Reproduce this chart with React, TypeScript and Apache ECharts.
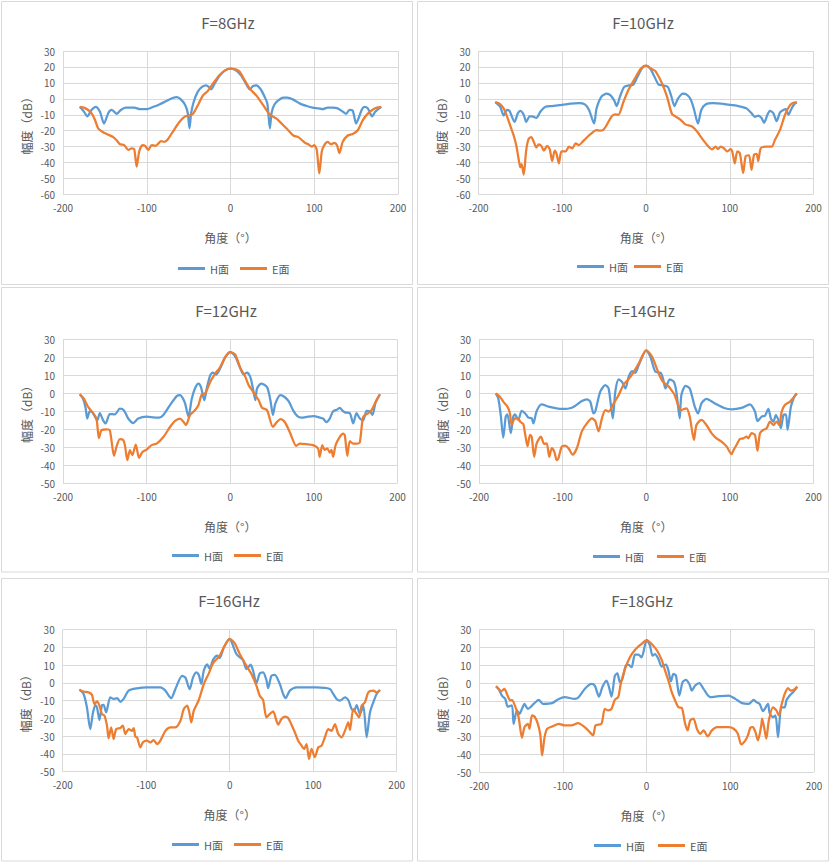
import React, { useEffect, useRef } from "react";
import * as echarts from "echarts";

type P = [number, number][];

const titles = ["F=8GHz", "F=10GHz", "F=12GHz", "F=14GHz", "F=16GHz", "F=18GHz"];
const seriesNames = ["H面", "E面"];
const xName = "角度（°）";
const yName = "幅度（dB）";
const xMin = -200;
const xMax = 200;
const xStep = 100;
const yMaxs = [30, 30, 30, 30, 30, 30];
const yMins = [-60, -60, -50, -50, -50, -50];
const yStep = 10;

const h8: P = [[-180,-5],[-175,-8],[-171,-11],[-166,-7],[-161,-5],[-156,-8],[-151,-15.5],[-146,-9],[-142,-7],[-139,-8],[-136,-9.5],[-131,-7],[-125,-5.5],[-115,-5.5],[-108,-6.5],[-100,-6.5],[-92,-5],[-85,-3.5],[-77,-1.5],[-69,0.5],[-64,1],[-59,-0.5],[-54,-4],[-51,-9],[-49,-18.5],[-47,-9],[-44,-2],[-39,4.5],[-34,7.5],[-29,8.5],[-26,7.5],[-23,6],[-19,9.5],[-13,14.5],[-6,18],[0,19],[6,18],[13,14.5],[19,9],[23,6],[27,8],[31,8.5],[36,6],[41,1],[44,-3],[47,-18.5],[49,-9],[52,-4],[57,-1],[63,0.8],[68,0.8],[75,-0.5],[83,-3],[91,-4.5],[98,-5.5],[105,-6],[110,-6.5],[116,-5.5],[122,-5.5],[128,-6],[134,-8],[138,-9.5],[142,-7],[146,-7.5],[150,-15.5],[153,-12],[157,-6.5],[160,-5],[164,-6],[169,-11],[173,-8],[180,-5]];
const e8: P = [[-180,-5],[-175,-5.5],[-170,-7],[-166,-9],[-162,-13],[-158,-18.5],[-152,-21],[-146,-22.5],[-140,-24],[-136,-26],[-132,-28.5],[-127,-29],[-122,-32],[-118,-31],[-115,-31.5],[-112,-42.5],[-109,-33],[-105,-29],[-102,-29.5],[-98,-32],[-94,-29],[-90,-29.5],[-86,-28],[-83,-26.5],[-79,-27],[-75,-25.5],[-69,-20.7],[-61,-14.5],[-55,-11.3],[-49,-10.3],[-45,-9.5],[-39,-4],[-33,2],[-27,5],[-21,9.5],[-13,15],[-6,18],[0,19],[6,18.5],[11,17],[17,11.6],[23,6.4],[31,2],[39,-4],[47,-10],[55,-12.4],[61,-15.5],[67,-18.6],[75,-23],[81,-24],[89,-27.6],[93,-28.5],[97,-30],[100,-29],[103,-32],[106,-46.8],[109,-33],[112,-29],[116,-27],[120,-28.5],[124,-27.6],[127,-29],[130,-34],[134,-27],[140,-23],[146,-22],[152,-19.7],[158,-13.4],[164,-9.3],[172,-6],[180,-5]];

const h10: P = [[-180,-2],[-174,-5],[-170,-10.5],[-166,-7],[-163,-7.5],[-157,-14.5],[-153,-9],[-150,-7.5],[-146,-10],[-143,-14.5],[-139,-11],[-136,-11],[-131,-12],[-126,-8],[-120,-5],[-112,-4.5],[-100,-3.8],[-90,-3],[-80,-2.7],[-73,-3.5],[-68,-7],[-62,-15.5],[-59,-6],[-53,1.5],[-47,3.2],[-42,2],[-38,-1],[-35,-4.5],[-31,1.5],[-26,7.5],[-20,8.5],[-15,9],[-10,14],[-5,19],[0,20.8],[5,19],[10,14],[15,9],[20,8.5],[26,7.5],[30,2],[34,-4.5],[38,0],[44,3.2],[49,2.5],[53,0],[57,-6],[62,-15.5],[66,-7],[71,-3.5],[80,-2.7],[90,-3],[100,-3.8],[108,-4.2],[114,-5],[120,-6],[126,-9],[130,-11.3],[134,-10.5],[138,-12],[141,-15],[145,-10],[148,-7.5],[152,-9],[156,-14],[160,-8.5],[164,-7],[167,-6.5],[170,-10],[173,-7],[176,-4],[180,-2]];
const e10: P = [[-180,-2],[-175,-3],[-170,-6],[-166,-11],[-162,-17],[-158,-23],[-155,-29],[-152,-38],[-150,-43],[-148.5,-41],[-146,-47.5],[-143,-32],[-140,-25],[-137,-24],[-134,-27],[-131,-30.5],[-128,-28.5],[-125,-29.5],[-122,-32.5],[-118,-29.5],[-115,-31.5],[-112,-39],[-109,-32.5],[-107,-34],[-104,-40.5],[-101,-33],[-96,-33],[-92,-30],[-88,-31],[-84,-28],[-80,-29],[-75,-26.5],[-67,-22.5],[-59,-19.7],[-55,-20],[-51,-19.5],[-47,-16.5],[-41,-11],[-37,-9.7],[-33,-10],[-27,-2],[-21,5.5],[-13,13],[-6,19],[0,20.8],[6,19],[11,17.5],[19,9.8],[25,1.5],[31,-9.5],[35,-11],[41,-13],[47,-16],[55,-17.4],[61,-20.5],[67,-25],[73,-29],[79,-31.7],[83,-30],[86,-31.5],[89,-30],[93,-31],[97,-33],[101,-31.5],[103,-33],[106,-40.5],[109,-33],[112,-34],[116,-46.5],[119,-36],[123,-35.5],[126,-44.5],[129,-35],[132,-34.5],[134,-39],[137,-31],[143,-30],[150,-30],[154,-25.7],[160,-19.5],[166,-10],[172,-4],[176,-2.5],[180,-2]];

const h12: P = [[-180,-0.5],[-176,-3],[-173,-8],[-171,-14],[-168,-10],[-165,-10.5],[-163,-12],[-159,-15],[-156,-11],[-152,-15],[-149,-16.7],[-144,-11.5],[-138,-11.7],[-132,-8.5],[-127,-9.5],[-122,-14],[-116,-16.5],[-110,-14],[-100,-13],[-90,-13.5],[-85,-13.5],[-80,-12],[-72,-6.5],[-64,-1.5],[-60,-1],[-57,-2.5],[-54,-5.6],[-50,-13],[-46,-3],[-42,3],[-38,5.5],[-35,3.5],[-31,-3.8],[-28,3],[-24,10],[-21,11.5],[-17,10.5],[-12,14],[-6,20],[0,23],[6,20.5],[12,14],[16,10.5],[20,11.5],[24,9],[27,3],[30,-3.8],[32,2.7],[37,5.5],[44,3.5],[48,-3.8],[51,-12],[54,-5.6],[60,-1],[65,-2],[70,-4.5],[75,-9.3],[80,-12.5],[85,-13.5],[93,-13],[100,-12.7],[107,-13.5],[111,-14],[115,-16],[119,-14],[123,-10],[128,-9],[131,-8],[134,-9.5],[137,-10.6],[143,-11],[147,-16.7],[151,-11],[155,-14],[159,-15],[163,-9.7],[167,-10],[170,-12],[174,-4.7],[179,-0.5]];
const e12: P = [[-180,-0.5],[-175,-2.9],[-170,-7.5],[-164,-11],[-160,-14],[-157,-25],[-154,-20.5],[-148,-20],[-144,-20.5],[-139,-34.8],[-136,-29.7],[-132,-25.5],[-128,-26],[-126,-28.8],[-123,-37.2],[-120,-31.6],[-117,-34.4],[-113,-28.5],[-109,-35.9],[-105,-32.6],[-100,-31.3],[-94,-28.8],[-88,-28],[-80,-24.3],[-72,-18.7],[-66,-15.3],[-60,-14],[-56,-15.8],[-53,-17.6],[-48,-12],[-42,-9.3],[-38,-6.5],[-34,-0.5],[-30,0],[-24,6.4],[-18,11],[-12,14.7],[-6,20.3],[0,23],[6,21.6],[12,14.2],[18,9.2],[22,4.6],[28,0.5],[34,-3.8],[38,-8],[44,-9.3],[51,-18.6],[56,-15.8],[60,-14.3],[65,-15.8],[71,-21.3],[79,-29.2],[83,-28],[91,-28.3],[99,-28.8],[105,-30.7],[107,-35.3],[110,-28.8],[113,-31.5],[116,-30.6],[119,-33],[121,-31.5],[123,-35.3],[126,-28.8],[131,-24.2],[135,-22.4],[137,-23.3],[140,-34.8],[143,-26.6],[147,-28],[152,-28],[155,-27],[159,-13.1],[165,-11],[169,-9.3],[173,-5.6],[179,-0.5]];

const h14: P = [[-180,0],[-177,-2.7],[-174,-12],[-171,-24.5],[-168,-12.8],[-166,-11.6],[-162,-22],[-159,-12.8],[-157,-11.6],[-153,-14.7],[-149,-9.7],[-145,-11],[-141,-13.4],[-137,-13.8],[-135,-16.6],[-131,-9.7],[-125,-6],[-117,-7.3],[-101,-8.6],[-89,-7.9],[-77,-4.2],[-71,-3.2],[-67,-4.5],[-63,-11],[-61,-10],[-55,1],[-49,4.6],[-45,2.8],[-40,-13.8],[-37,1],[-33,7.8],[-29,6.5],[-25,2.8],[-21,9.3],[-17,12.4],[-13,11.5],[-9,15.8],[0,24],[5,20.4],[11,12],[17,11.6],[20,8.4],[23,2.8],[28,7.8],[33,6.5],[36,1],[40,-13.8],[42,-0.9],[47,4.3],[52,2.8],[58,-7.3],[62,-11],[66,-5.5],[72,-3],[82,-5.5],[94,-8.2],[102,-8.8],[114,-8],[124,-6],[130,-10],[133,-15.3],[138,-12.8],[142,-12.3],[146,-8.6],[149,-13.8],[152,-15.6],[155,-12],[158,-14.7],[161,-19.3],[164,-12],[167,-11.6],[169,-20.2],[173,-7.3],[177,-1.8],[180,0]];
const e14: P = [[-180,0],[-175,-1.8],[-171,-4.5],[-166,-7.3],[-163,-11],[-161,-17.5],[-157,-13.8],[-153,-14.3],[-150,-16],[-147,-17],[-145,-22],[-142,-29.4],[-139,-23],[-137,-24],[-134,-35.2],[-131,-27.7],[-126,-24],[-122,-28],[-119,-27.7],[-116,-35.2],[-113,-30.4],[-110,-32.3],[-107,-37],[-105,-36],[-101,-29.4],[-97,-28.9],[-93,-30.4],[-88,-34],[-83,-30.4],[-77,-21],[-71,-16.6],[-65,-13.8],[-61,-15.3],[-57,-21],[-53,-13.8],[-49,-9.2],[-45,-10],[-39,-5.5],[-33,-0.8],[-27,5],[-21,8],[-15,12],[-9,16.7],[0,24],[7,20.4],[15,11],[20,6.5],[27,3.8],[31,1.3],[34,-0.8],[38,-6.3],[42,-9.2],[48,-8.2],[52,-12.8],[57,-25.8],[60,-17.5],[66,-14.7],[72,-17.5],[78,-22],[84,-24.9],[90,-26.7],[96,-29.4],[102,-33.7],[104,-31.8],[108,-28.5],[112,-25.3],[116,-24.9],[120,-24],[122,-24.9],[126,-22],[130,-23],[133,-31.8],[136,-22],[140,-20.2],[144,-19.3],[148,-15.6],[152,-17.5],[156,-15.6],[159,-17.5],[162,-10],[166,-6.3],[172,-4.5],[180,0]];

const h16: P = [[-180,-3.8],[-175,-6.2],[-171,-13.7],[-167,-26],[-164,-17.5],[-161,-12.5],[-159,-13.7],[-156,-20.9],[-153,-12.5],[-151,-12.3],[-148,-16.6],[-143,-8.1],[-139,-9],[-135,-8.5],[-131,-10.6],[-127,-9],[-121,-4.3],[-111,-3],[-99,-2.5],[-83,-2.5],[-77,-4.3],[-73,-7.2],[-70,-8.5],[-65,-3.4],[-57,4],[-53,3],[-48,-3.5],[-44,3],[-40,6],[-37,4.5],[-34,-0.5],[-31,7],[-27,10.5],[-24,8],[-20,13],[-15,15.4],[-12,14],[-7,20],[0,24.8],[4,21],[8,16.3],[12,14.5],[16,13],[20,7.8],[25,10.3],[28,6.9],[32,-0.2],[36,5.4],[40,6],[44,1.6],[46,-2.9],[50,4],[54,4.5],[60,-0.6],[64,-6.2],[67,-8.5],[72,-4.3],[80,-2.5],[104,-2.5],[120,-3.4],[124,-6.2],[128,-9],[132,-10],[138,-8.1],[142,-9.6],[146,-14.7],[149,-15.6],[152,-12.5],[156,-17.5],[160,-12.8],[164,-30.6],[168,-16.6],[172,-10.9],[176,-6.2],[180,-4]];
const e16: P = [[-180,-3.8],[-175,-4.8],[-169,-5.3],[-165,-6.6],[-162,-11.9],[-159,-10.4],[-156,-12.8],[-153,-17.5],[-150,-18.4],[-147,-24],[-145,-31.2],[-142,-25],[-139,-31.6],[-136,-26],[-131,-25.4],[-128,-24],[-125,-28.8],[-121,-26],[-117,-27],[-115,-25.4],[-113,-30.3],[-111,-30.6],[-107,-36.3],[-104,-33.5],[-99,-32.5],[-95,-33.5],[-91,-32.2],[-87,-34.4],[-83,-32.5],[-77,-27],[-71,-25],[-65,-25],[-59,-21.3],[-55,-14.7],[-51,-12.8],[-48,-17.5],[-46,-22.2],[-43,-15.6],[-37,-9.6],[-31,-0.6],[-25,5.4],[-20,11],[-12,15.4],[-6,21],[0,24.8],[6,22.4],[12,16.3],[20,9.7],[26,5],[32,-1.5],[36,-7.2],[40,-9.6],[44,-19.4],[48,-17.5],[52,-16],[56,-21.3],[58,-23.5],[62,-20.3],[66,-19],[70,-19.7],[74,-23.5],[78,-27.8],[82,-32.5],[86,-35.3],[89,-37.2],[92,-34.4],[95,-42.8],[98,-37.2],[102,-41.8],[106,-36.3],[110,-35.3],[114,-30.6],[118,-26],[122,-27],[126,-23.2],[130,-28.8],[134,-30.6],[138,-27],[142,-22.2],[144,-26.5],[148,-14.7],[152,-17.5],[155,-19.4],[158,-12.8],[162,-10.9],[166,-5.3],[172,-4.3],[176,-5.3],[180,-4]];

const h18: P = [[-180,-1.8],[-177,-3.3],[-173,-7],[-169,-8.9],[-166,-13.2],[-161,-12.6],[-159,-22.9],[-155,-15.4],[-152,-17.3],[-149,-14.5],[-146,-11.7],[-142,-14.5],[-139,-13.6],[-135,-11.7],[-129,-9.4],[-124,-11.7],[-113,-11.3],[-105,-8.9],[-98,-7.9],[-86,-8.9],[-82,-8.3],[-74,-3.3],[-66,-0.5],[-62,-1.4],[-57,-7.6],[-53,-2.3],[-48,1.4],[-45,-2.3],[-42,-7.6],[-38,4.1],[-35,5.5],[-32,0.5],[-29,2.3],[-25,9.8],[-22,10.4],[-18,8.9],[-14,16],[-10,16],[-6,14.5],[0,24.2],[4,21],[7,15.4],[10,16.3],[14,13.6],[18,9.3],[23,10.4],[26,7],[29,1],[32,5.1],[35,4.2],[39,-7],[43,0.5],[47,1.8],[51,-0.5],[54,-4.2],[58,-1.4],[63,0],[68,-3.3],[76,-7.9],[86,-7.4],[98,-7],[106,-8.9],[114,-11.3],[122,-11.7],[128,-9.4],[131,-10.7],[135,-11.7],[139,-15.8],[145,-11.7],[147,-16.9],[151,-19.2],[154,-18.2],[157,-30.4],[161,-13.6],[165,-13.6],[167,-9.8],[171,-7],[175,-5.1],[180,-2.3]];
const e18: P = [[-180,-1.8],[-177,-3.3],[-174,-4.6],[-170,-3.3],[-167,-6.1],[-163,-9.8],[-161,-9.4],[-157,-13.2],[-153,-19.2],[-149,-30.8],[-146,-24.8],[-142,-22.9],[-140,-25.7],[-137,-18.2],[-134,-18.8],[-130,-22.9],[-127,-29.4],[-125,-40.7],[-122,-30.4],[-119,-25.7],[-113,-24.4],[-105,-22.9],[-98,-23.8],[-90,-23.8],[-82,-22.5],[-74,-24.8],[-68,-27.6],[-64,-29.4],[-61,-23.8],[-54,-22.9],[-50,-14.5],[-46,-15.4],[-42,-14.5],[-38,-9.4],[-34,-7.9],[-31,-0.5],[-26,7.9],[-20,14.5],[-14,18.6],[-6,22],[0,24.2],[6,22],[12,18.6],[18,13],[22,7],[26,1.4],[30,-5.1],[34,-9.8],[38,-13.6],[42,-13.9],[46,-22.9],[49,-26.6],[52,-21],[56,-20],[60,-25.7],[64,-28.5],[68,-26.6],[73,-30],[78,-26.6],[84,-24.8],[90,-24.8],[98,-24.8],[104,-25.7],[109,-28.5],[113,-34.5],[118,-32.2],[121,-29.4],[124,-25.1],[127,-24.8],[130,-27.6],[133,-32.2],[137,-23.8],[138,-20],[141,-26.6],[143,-31.3],[146,-21],[151,-13.6],[155,-15.4],[158,-18.2],[161,-12.6],[165,-6.1],[169,-2.8],[172,-4.2],[176,-3.8],[180,-2]];

const hData = [h8, h10, h12, h14, h16, h18];
const eData = [e8, e10, e12, e14, e16, e18];

// layout (page pixels)
const layouts = [
  { bx: 1.5, by: 1.5, bw: 411, bh: 283, gx: 63, gy: 51, gw: 335, gh: 143.5, tx: 228, ty: 22, lx: 173, ly: 267, lgap: 11 },
  { bx: 417.5, by: 1.5, bw: 411, bh: 283, gx: 478.5, gy: 51, gw: 335, gh: 143.5, tx: 643, ty: 22, lx: 572, ly: 265, lgap: 6 },
  { bx: 1.5, by: 287.5, bw: 411, bh: 284.5, gx: 63, gy: 339.5, gw: 334.5, gh: 143.7, tx: 226, ty: 310, lx: 167, ly: 554, lgap: 11 },
  { bx: 417.5, by: 287.5, bw: 411, bh: 284.5, gx: 479, gy: 339.5, gw: 334.5, gh: 144, tx: 644, ty: 310, lx: 588, ly: 555, lgap: 13 },
  { bx: 1.5, by: 578.5, bw: 411, bh: 282.5, gx: 62.7, gy: 629.7, gw: 334, gh: 142, tx: 229, ty: 600, lx: 167, ly: 843, lgap: 11 },
  { bx: 417.5, by: 578.5, bw: 411, bh: 282.5, gx: 479.3, gy: 629.7, gw: 334.7, gh: 142.3, tx: 642, ty: 600, lx: 589, ly: 844, lgap: 13 },
];

const FONT = '"Noto Sans CJK SC", "Noto Sans", sans-serif';
const TEXT = "#595959";
const GRID = "#d9d9d9";
const BLUE = "#5B9BD5";
const ORANGE = "#ED7D31";

export default function App() {
  const ref = useRef<HTMLDivElement>(null);
  useEffect(() => {
    document.body.style.margin = "0";
    if (!ref.current) return;
    const chart = echarts.init(ref.current, undefined, { renderer: "svg" });
    const grid: any[] = [];
    const xAxis: any[] = [];
    const yAxis: any[] = [];
    const series: any[] = [];
    const legend: any[] = [];
    const graphic: any[] = [];
    layouts.forEach((L, i) => {
      graphic.push({
        type: "rect",
        shape: { x: L.bx, y: L.by, width: L.bw, height: L.bh },
        style: { fill: "none", stroke: GRID, lineWidth: 1 },
        silent: true,
      });
      graphic.push({
        type: "text",
        x: L.tx,
        y: L.ty,
        style: {
          text: titles[i],
          fill: TEXT,
          fontSize: 15,
          fontFamily: FONT,
          textAlign: "center",
          textVerticalAlign: "middle",
          align: "center",
          verticalAlign: "middle",
        },
        silent: true,
      });
      grid.push({ left: L.gx, top: L.gy, width: L.gw, height: L.gh, containLabel: false });
      xAxis.push({
        type: "value",
        gridIndex: i,
        min: xMin,
        max: xMax,
        interval: xStep,
        name: xName,
        nameLocation: "middle",
        nameGap: 37,
        nameTextStyle: { color: TEXT, fontSize: 12, fontFamily: FONT },
        axisLine: { show: true, lineStyle: { color: GRID } },
        axisTick: { show: false },
        axisLabel: { color: TEXT, fontSize: 10, fontFamily: FONT, margin: 8 },
        splitLine: { show: true, lineStyle: { color: GRID, width: 1 } },
      });
      yAxis.push({
        type: "value",
        gridIndex: i,
        min: yMins[i],
        max: yMaxs[i],
        interval: yStep,
        name: yName,
        nameLocation: "middle",
        nameRotate: 90,
        nameGap: 31,
        nameTextStyle: { color: TEXT, fontSize: 12, fontFamily: FONT },
        axisLine: { show: true, lineStyle: { color: GRID } },
        axisTick: { show: false },
        axisLabel: { color: TEXT, fontSize: 10, fontFamily: FONT, margin: 8 },
        splitLine: { show: true, lineStyle: { color: GRID, width: 1 } },
      });
      [hData[i], eData[i]].forEach((d, k) => {
        series.push({
          type: "line",
          name: seriesNames[k],
          xAxisIndex: i,
          yAxisIndex: i,
          data: d,
          showSymbol: false,
          symbol: "none",
          smooth: 0.25,
          lineStyle: { width: 2.25, color: k === 0 ? BLUE : ORANGE },
          itemStyle: { color: k === 0 ? BLUE : ORANGE },
          emphasis: { disabled: true },
        });
      });
      legend.push({
        data: seriesNames,
        left: L.lx,
        top: L.ly - 9,
        orient: "horizontal",
        icon: "rect",
        itemWidth: 27,
        itemHeight: 3,
        itemGap: L.lgap,
        textStyle: { color: TEXT, fontSize: 11, fontFamily: FONT },
        selectedMode: false,
      });
    });
    chart.setOption({
      animation: false,
      backgroundColor: "#ffffff",
      color: [BLUE, ORANGE],
      grid,
      xAxis,
      yAxis,
      series,
      legend,
      graphic,
    });
    return () => chart.dispose();
  }, []);
  return <div ref={ref} style={{ width: 830, height: 864 }} />;
}
